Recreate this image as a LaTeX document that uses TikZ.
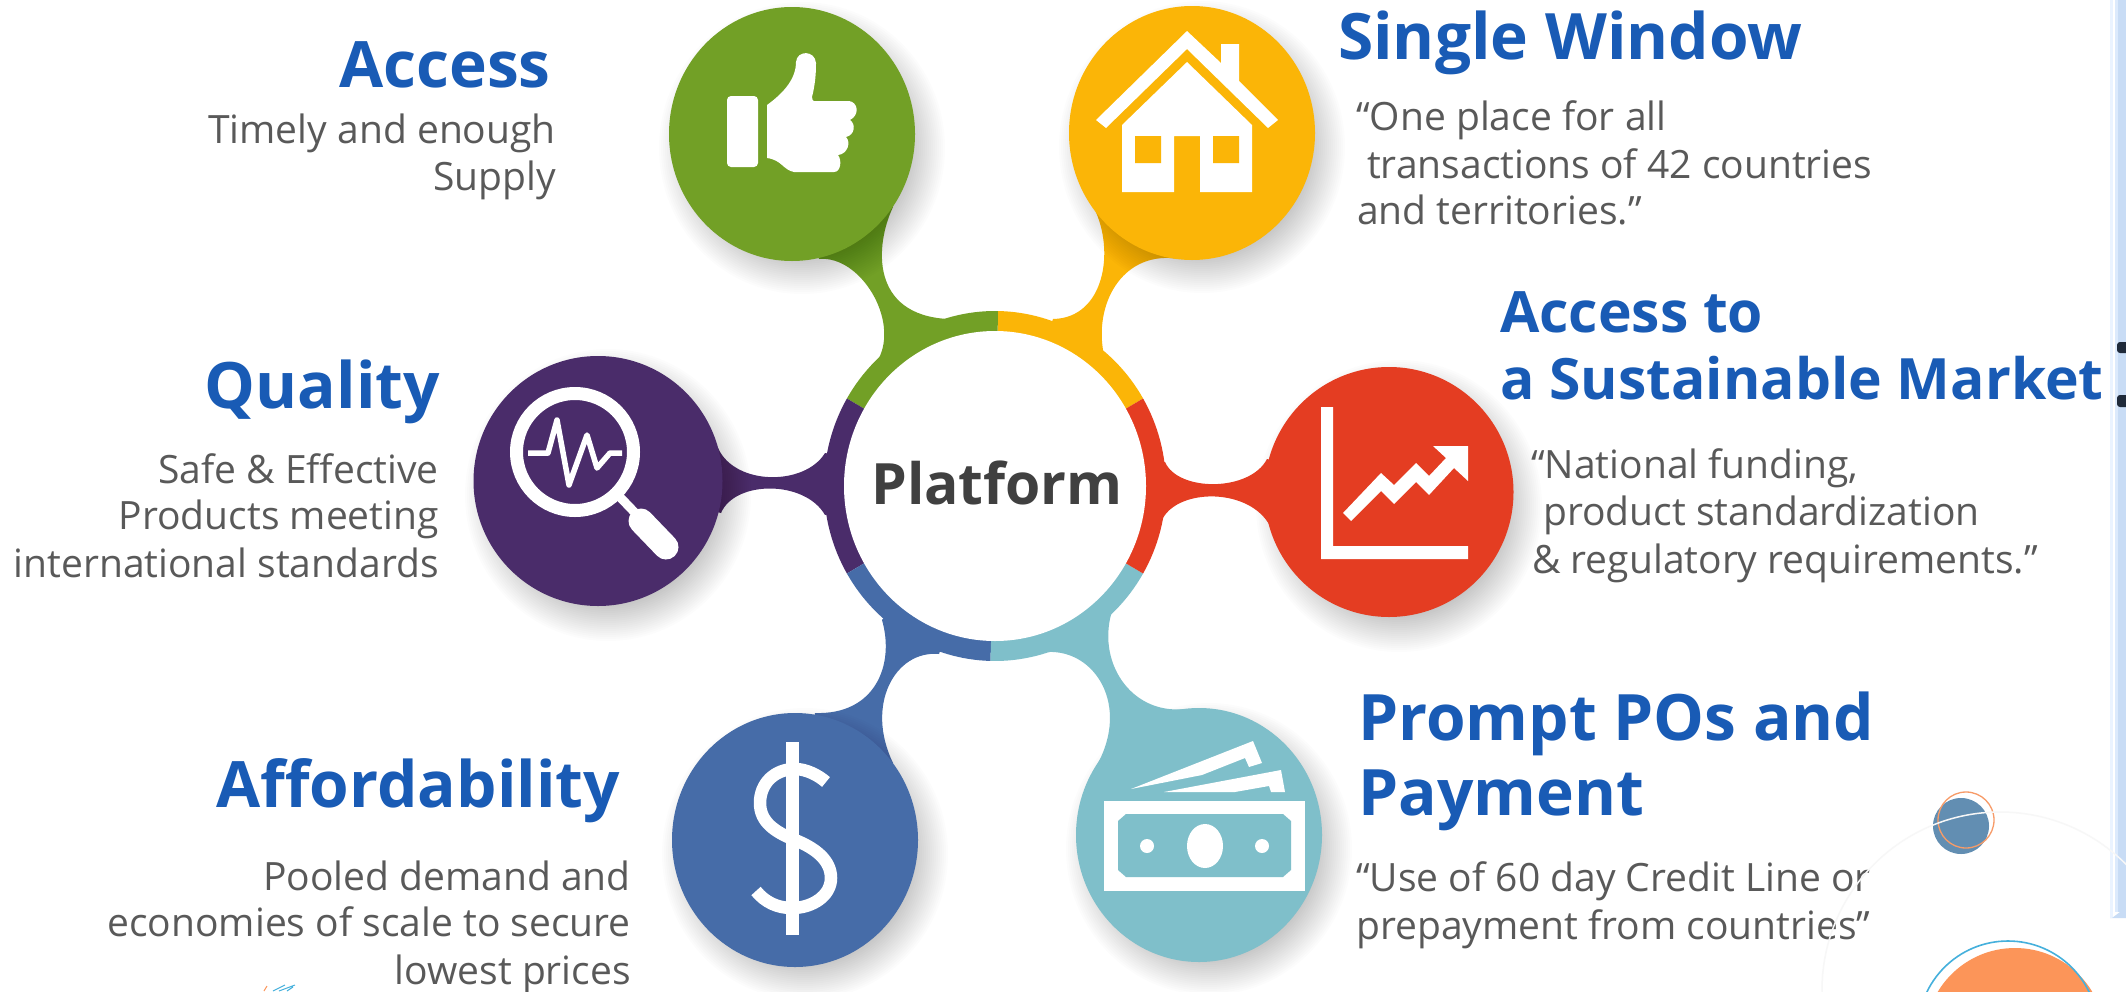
\documentclass[tikz,border=0pt]{standalone}
\usepackage{fontspec}
\setmainfont{Open Sans}
\usetikzlibrary{shapes.geometric}
\definecolor{cgreen}{HTML}{72A026}
\definecolor{cyellow}{HTML}{FBB507}
\definecolor{cpurple}{HTML}{4A2C6A}
\definecolor{cred}{HTML}{E43D22}
\definecolor{cblue}{HTML}{466CA8}
\definecolor{cteal}{HTML}{7FBFCA}
\definecolor{headblue}{HTML}{195BB5}
\definecolor{bodygray}{HTML}{595959}
\definecolor{hubgray}{HTML}{404040}
\definecolor{stripa}{HTML}{EAF3FF}
\definecolor{stripb}{HTML}{DCEAFC}
\definecolor{stripc}{HTML}{C8DCF5}
\definecolor{dotdark}{HTML}{1F2A3A}
\definecolor{dotblue}{HTML}{628EB2}
\definecolor{ringorange}{HTML}{F79B68}
\definecolor{bigorange}{HTML}{FC9559}
\definecolor{ringblue}{HTML}{45B0DC}
\tikzset{
  ball/.style={ellipse,inner sep=0pt,minimum width=246pt,minimum height=254pt},
  headE/.style={font=\fontsize{64}{64}\selectfont\bfseries,text=headblue,inner sep=0pt,anchor=base east},
  headW/.style={font=\fontsize{64}{64}\selectfont\bfseries,text=headblue,inner sep=0pt,anchor=base west},
  headM/.style={font=\fontsize{57}{57}\selectfont\bfseries,text=headblue,inner sep=0pt,anchor=base west},
  bodyE/.style={font=\fontsize{39}{39}\selectfont,text=bodygray,inner sep=0pt,anchor=base east},
  bodyW/.style={font=\fontsize{39}{39}\selectfont,text=bodygray,inner sep=0pt,anchor=base west},
  icon/.style={fill=white,draw=none}
}
\newcommand{\softshadow}[2]{%
  \foreach \k in {0,...,19}{%
    \fill[black,opacity=0.0135] (#1+10,#2+14) ellipse [x radius=123pt+20pt-\k*2pt, y radius=126pt+20pt-\k*2pt];
  }%
}
\begin{document}
\begin{tikzpicture}[x=1pt,y=-1pt]
\useasboundingbox (0,0) rectangle (2126,991);
\fill[white] (0,0) rectangle (2126,991);
% side strip and dots
\fill[stripa] (2110,0) rectangle (2113,918);
\fill[white] (2113,0) rectangle (2115,912);
\fill[stripb] (2115,0) rectangle (2118,912);
\fill[stripc] (2118,0) rectangle (2126,912);
\fill[stripc] (2110,918) -- (2112,918) -- (2120,912) -- (2126,912) -- (2126,918) -- cycle;
\fill[dotdark, rounded corners=3pt] (2117,342) rectangle (2132,353);
\fill[dotdark, rounded corners=3pt] (2117,395) rectangle (2132,407);
% bottom-right circles
\fill[dotblue] (1961,826) circle [radius=28pt];
\draw[ringorange,line width=1.3pt] (1966,820) circle [radius=28pt];
\fill[bigorange] (2015,1038) circle [radius=90pt];
\draw[ringblue,line width=1.6pt] (2008,1031) circle [radius=90pt];
% scribble
\draw[ringblue,line width=1pt] (273,991) -- (285,985) (279,991) -- (295,985) (287,991) -- (293,987);
\draw[bigorange,line width=1pt] (264,991) -- (267,986);
% shadows that stay behind their necks
\softshadow{1389}{492}\softshadow{1199}{835}
% necks
\fill[cgreen] (792,134) -- (893,207) .. controls (875,245) and (870,315) .. (948,319) -- (995,486) -- (878,360) .. controls (900,320) and (860,255) .. (819,259) -- cycle;
\fill[cyellow] (1192,133) -- (1094,208) .. controls (1115,250) and (1105,318) .. (1053,319) -- (995,486) -- (1103,350) .. controls (1095,300) and (1125,250) .. (1179,259) -- cycle;
\fill[cpurple] (598,481) -- (718,448) .. controls (735,486) and (805,486) .. (825,453) -- (995,486) -- (825,515) .. controls (805,480) and (735,480) .. (721,513) -- cycle;
\fill[cred] (1389,492) -- (1267,459) .. controls (1250,492) and (1178,492) .. (1165,462) -- (995,486) -- (1163,518) .. controls (1180,488) and (1250,488) .. (1270,526) -- cycle;
\fill[cblue] (795,840) -- (815,713) .. controls (875,715) and (895,665) .. (882,620) -- (995,486) -- (939,654) .. controls (895,650) and (865,705) .. (893,763) -- cycle;
\fill[cteal] (1199,835) -- (1097,765) .. controls (1130,705) and (1095,650) .. (1048,652) -- (995,486) -- (1113,608) .. controls (1095,660) and (1130,715) .. (1185,709) -- cycle;
% ring sectors
\fill[cyellow] (995,486) -- +(30:171pt and 175pt) arc[start angle=30,end angle=89,x radius=171pt,y radius=175pt] -- cycle;
\fill[cgreen] (995,486) -- +(89:171pt and 175pt) arc[start angle=89,end angle=150,x radius=171pt,y radius=175pt] -- cycle;
\fill[cpurple] (995,486) -- +(150:171pt and 175pt) arc[start angle=150,end angle=210,x radius=171pt,y radius=175pt] -- cycle;
\fill[cblue] (995,486) -- +(210:171pt and 175pt) arc[start angle=210,end angle=268.5,x radius=171pt,y radius=175pt] -- cycle;
\fill[cteal] (995,486) -- +(268.5:171pt and 175pt) arc[start angle=268.5,end angle=330,x radius=171pt,y radius=175pt] -- cycle;
\fill[cred] (995,486) -- +(330:171pt and 175pt) arc[start angle=330,end angle=390,x radius=171pt,y radius=175pt] -- cycle;
\node[ellipse,inner sep=0pt,fill=white,minimum width=302pt,minimum height=310pt] (hub) at (995,486) {};
\node[text=hubgray,font=\fontsize{57}{57}\selectfont\bfseries,inner sep=0pt,anchor=base] (hublabel) at (997,504) {Platform};
% shadows and balls
\softshadow{792}{134}\softshadow{1192}{133}\softshadow{598}{481}\softshadow{795}{840}
\node[ball,fill=cgreen] (access) at (792,134) {};
\node[ball,fill=cyellow] (window) at (1192,133) {};
\node[ball,fill=cpurple,minimum width=249pt,minimum height=250pt] (quality) at (598,481) {};
\node[ball,fill=cred,minimum width=249pt,minimum height=250pt] (market) at (1389,492) {};
\node[ball,fill=cblue] (afford) at (795,840) {};
\node[ball,fill=cteal] (prompt) at (1199,835) {};
% thumb
\fill[icon,rounded corners=4pt] (727,96) -- (758,96) -- (758,167) -- (727,167) -- cycle;
\fill[icon] (767,105) .. controls (785,92) and (796,78) .. (796,62) .. controls (797,50) and (815,50) .. (816,63) .. controls (816,75) and (815,85) .. (812,97) .. controls (812,100) and (813,101) .. (814,101) -- (849,101) .. controls (858,102) and (860,115) .. (850,120) .. controls (856,124) and (855,135) .. (846,137) .. controls (851,142) and (848,154) .. (838,155) .. controls (842,160) and (841,172) .. (834,172) -- (794,172) .. controls (783,170) and (782,160) .. (767,158) -- cycle;
% house
\fill[icon] (1187,31) -- (1221,63) -- (1221,44) -- (1239,44) -- (1239,81) -- (1278,120) -- (1268,128) -- (1187,49) -- (1106,128) -- (1096,120) -- cycle;
\fill[icon] (1187,62) -- (1252,125) -- (1252,192) -- (1200,192) -- (1200,136) -- (1174,136) -- (1174,192) -- (1122,192) -- (1122,125) -- cycle;
\fill[cyellow] (1135,136) rectangle (1161,163) (1213,136) rectangle (1239,163);
% magnifier
\draw[white,line width=13pt] (575,452) circle [radius=58.5pt];
\draw[white,line width=9pt] (618,495) -- (640,518);
\draw[white,line width=25pt,line cap=round] (641,521) -- (666,547);
\draw[white,line width=5.5pt,line join=round] (528,453) -- (548,453) -- (557,420) -- (569,485) -- (587,435) -- (597,468) -- (610,453) -- (622,453);
% chart
\fill[icon] (1321,407) -- (1333,407) -- (1333,546) -- (1468,546) -- (1468,559) -- (1321,559) -- cycle;
\fill[icon] (1343,513) -- (1381,473) -- (1394,485) -- (1416,463) -- (1429,476) -- (1446,458) -- (1433,446) -- (1468,446) -- (1468,481) -- (1454,468) -- (1429,495) -- (1416,482) -- (1394,504) -- (1381,491) -- (1351,521) -- cycle;
% dollar
\fill[icon] (786,742) rectangle (799,935);
\draw[white,line width=12.5pt] (826,782) .. controls (818,775) and (806,769) .. (795,769) .. controls (775,769) and (760,783) .. (760,803) .. controls (760,822) and (775,832) .. (795,840) .. controls (815,848) and (831,860) .. (831,878) .. controls (831,896) and (812,908) .. (792,908) .. controls (777,908) and (765,902) .. (756,891);
% banknotes
\fill[icon] (1131,789) -- (1253,741) -- (1262,763) -- (1249,767) -- (1245,758) -- (1202,775) -- cycle;
\fill[icon] (1164,792) -- (1281,770) -- (1285,792) -- (1271,792) -- (1269,786) -- (1235,792) -- cycle;
\fill[icon] (1104,801) rectangle (1305,891);
\fill[cteal] (1126,814) -- (1283,814) -- (1291,821) -- (1291,870) -- (1283,877) -- (1126,877) -- (1118,870) -- (1118,821) -- cycle;
\fill[icon] (1205,846) ellipse [x radius=18pt,y radius=22pt];
\fill[icon] (1147,846) ellipse [x radius=7pt,y radius=7pt];
\fill[icon] (1262,846) ellipse [x radius=7pt,y radius=7pt];
% texts
\node[headE] (t1) at (551,87) {Access};
\node[bodyE] (t1a) at (556,143) {Timely and enough};
\node[bodyE] (t1b) at (556,190) {Supply};
\node[headW] (t2) at (1338,59) {Single Window};
\node[bodyW] (t2a) at (1356,130) {“One place for all};
\node[bodyW] (t2b) at (1367,178) {transactions of 42 countries};
\node[bodyW] (t2c) at (1357,224) {and territories.”};
\node[headM] (t3) at (1500,332) {Access to};
\node[headM] (t3a) at (1500,399) {a Sustainable Market};
\node[bodyW] (t3b) at (1531,478) {“National funding,};
\node[bodyW] (t3c) at (1543,525) {product standardization};
\node[bodyW] (t3d) at (1532,573) {\& regulatory requirements.”};
\node[headE] (t4) at (440,408) {Quality};
\node[bodyE] (t4a) at (439,483) {Safe \& Effective};
\node[bodyE] (t4b) at (439,529) {Products meeting};
\node[bodyE] (t4c) at (439,577) {international standards};
\node[headE] (t5) at (620,807) {Affordability};
\node[bodyE] (t5a) at (631,890) {Pooled demand and};
\node[bodyE] (t5b) at (631,936) {economies of scale to secure};
\node[bodyE] (t5c) at (631,984) {lowest prices};
\node[headW] (t6) at (1358,740) {Prompt POs and};
\node[headW] (t6a) at (1358,815) {Payment};
\node[bodyW] (t6b) at (1356,891) {“Use of 60 day Credit Line or};
\node[bodyW] (t6c) at (1356,939) {prepayment from countries”};
% faint circle over text
\draw[white!97!black,line width=1.5pt] (2000,990) circle [radius=178pt];
\end{tikzpicture}
\end{document}
